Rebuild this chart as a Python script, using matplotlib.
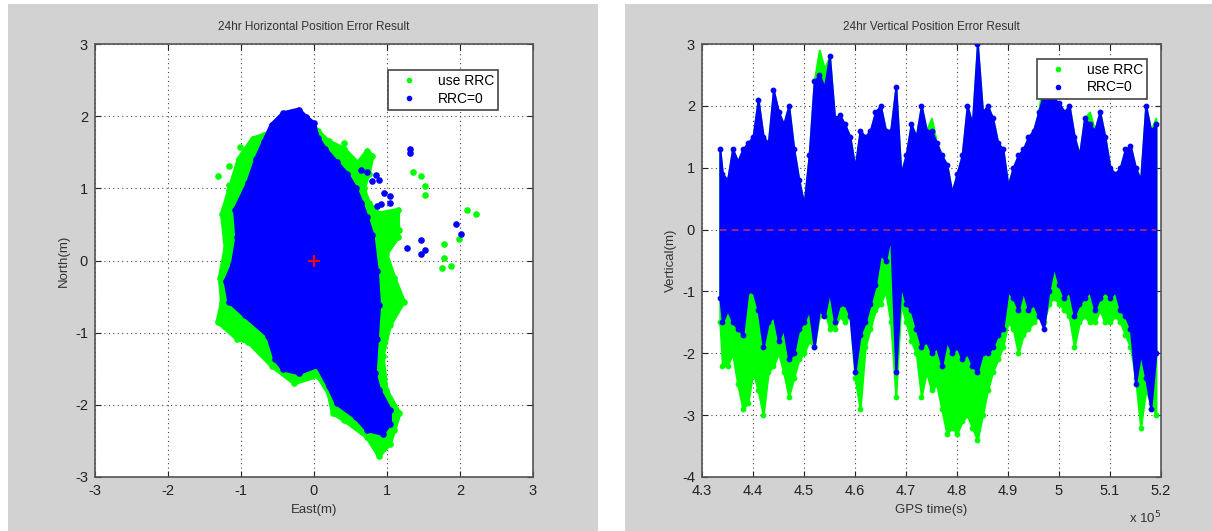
import matplotlib
matplotlib.use('Agg')  # no display

import matplotlib.pyplot as plt
from matplotlib.patches import Rectangle

plt.rcParams['font.family'] = ['Liberation Sans', 'DejaVu Sans']
plt.rcParams['axes.unicode_minus'] = False  # matlab-style hyphen minus

# ---- horizontal error cloud (East, North in m) ----
# outline of the "use RRC" cloud
green_east = [-0.84, -0.69, -0.11, 0.05, 0.20, 0.41, 0.60, 0.73, 0.80, 0.75, 0.68, 0.75,
              0.89, 1.15, 1.15, 0.99, 1.10, 1.23, 1.04, 0.94, 0.99, 1.17, 1.10, 1.04,
              0.89, 0.73, 0.41, 0.26, 0.20, 0.05, -0.27, -0.58, -0.90, -1.05, -1.32,
              -1.26, -1.29, -1.21, -1.26, -1.16, -1.03]
green_north = [1.69, 1.74, 1.97, 1.80, 1.65, 1.55, 1.35, 1.52, 1.45, 1.20, 1.00, 0.80,
               0.65, 0.70, 0.32, 0.09, -0.24, -0.57, -0.90, -1.32, -1.79, -2.12, -2.35, -2.54,
               -2.71, -2.45, -2.21, -2.12, -1.84, -1.60, -1.70, -1.46, -1.13, -1.09, -0.85,
               -0.57, -0.24, 0.18, 0.65, 0.98, 1.41]
# outline of the "RRC=0" cloud
blue_east = [-0.42, -0.21, -0.11, 0.00, 0.05, 0.15, 0.31, 0.45, 0.57, 0.65, 0.72,
             0.80, 0.86, 0.89, 0.86, 0.83, 0.89, 1.04, 1.04, 0.94, 0.73, 0.57,
             0.31, 0.20, 0.05, -0.21, -0.42, -0.53, -0.63, -0.95, -1.16, -1.21, -1.11,
             -1.05, -1.08, -0.90, -0.79, -0.69, -0.58]
blue_north = [2.04, 2.09, 1.99, 1.90, 1.70, 1.55, 1.36, 1.20, 1.00, 0.80, 0.60,
              0.35, -0.15, -0.62, -1.09, -1.56, -1.79, -2.07, -2.26, -2.40, -2.35, -2.17,
              -1.98, -1.74, -1.46, -1.56, -1.51, -1.37, -1.04, -0.76, -0.57, -0.29, -0.05,
              0.32, 0.70, 1.08, 1.41, 1.64, 1.88]
# scattered points away from the clouds
green_out_east = [-1.32, -1.16, -1.17, -1.01, 0.41, 1.36, 1.46, 1.52, 1.52, 2.09, 2.22,
                  1.99, 1.78, 1.78, 1.75, 1.88, 1.10, 1.17]
green_out_north = [1.17, 1.31, 1.05, 1.57, 1.63, 1.22, 1.17, 1.03, 0.91, 0.70, 0.65,
                   0.30, 0.23, 0.04, -0.10, -0.08, 0.61, 0.42]
blue_out_east = [1.31, 1.31, 1.94, 2.01, 1.46, 1.52, 1.28, 1.46, 1.04, 0.96, 1.04,
                 0.65, 0.73, 0.85, 0.89, 0.80, 0.86, 0.92]
blue_out_north = [1.55, 1.49, 0.51, 0.37, 0.28, 0.14, 0.18, 0.09, 0.89, 0.94, 0.79,
                  1.25, 1.22, 1.18, 1.12, 1.10, 0.75, 0.78]

# ---- vertical error envelopes vs GPS time (x 10^5 s) ----
gps_time = [4.335, 4.34, 4.35, 4.36, 4.37, 4.38, 4.39,
            4.40, 4.41, 4.42, 4.43, 4.44, 4.45, 4.46, 4.47, 4.48, 4.49,
            4.50, 4.51, 4.52, 4.53, 4.54, 4.55, 4.56, 4.57, 4.58, 4.59,
            4.60, 4.61, 4.62, 4.63, 4.64, 4.65, 4.66, 4.67, 4.68, 4.69,
            4.70, 4.71, 4.72, 4.73, 4.74, 4.75, 4.76, 4.77, 4.78, 4.79,
            4.80, 4.81, 4.82, 4.83, 4.84, 4.85, 4.86, 4.87, 4.88, 4.89,
            4.90, 4.91, 4.92, 4.93, 4.94, 4.95, 4.96, 4.97, 4.98, 4.99,
            5.00, 5.01, 5.02, 5.03, 5.04, 5.05, 5.06, 5.07, 5.08, 5.09,
            5.10, 5.11, 5.12, 5.13, 5.14, 5.15, 5.16, 5.17, 5.18, 5.19]
blue_top = [1.3, 0.9, 0.8, 1.3, 1.1, 1.3, 1.4,
            1.5, 2.1, 1.5, 1.4, 2.25, 1.9, 1.7, 2.0, 1.3, 0.8,
            0.4, 1.2, 2.4, 2.5, 2.3, 2.8, 1.8, 1.85, 1.7, 1.5,
            1.0, 1.6, 1.5, 1.6, 1.9, 2.0, 1.6, 1.6, 2.3, 0.9,
            1.2, 1.7, 1.5, 2.0, 1.6, 1.6, 1.4, 1.2, 1.05, 0.6,
            0.9, 1.2, 2.0, 1.7, 3.0, 1.9, 2.0, 1.8, 1.4, 1.3,
            0.7, 1.0, 1.2, 1.3, 1.5, 1.6, 1.9, 2.2, 2.2, 2.1,
            2.05, 1.9, 2.0, 1.5, 1.2, 1.8, 1.7, 1.6, 1.9, 1.5,
            1.0, 0.9, 1.0, 1.3, 1.35, 1.0, 0.8, 2.0, 1.6, 1.7]
green_top = [1.3, 0.9, 0.8, 1.3, 1.1, 1.3, 1.4,
             1.5, 2.1, 1.5, 1.4, 2.25, 1.9, 1.7, 2.0, 1.3, 0.8,
             0.4, 1.2, 2.4, 2.9, 2.6, 2.8, 1.8, 1.85, 1.7, 1.5,
             1.0, 1.6, 1.5, 1.6, 1.9, 2.0, 1.6, 1.6, 2.3, 0.9,
             1.2, 1.7, 1.5, 2.0, 1.6, 1.8, 1.4, 1.2, 1.05, 0.6,
             0.9, 1.2, 2.0, 1.7, 3.0, 1.9, 2.0, 1.8, 1.4, 1.3,
             0.7, 1.0, 1.2, 1.3, 1.5, 1.6, 1.9, 2.5, 2.3, 2.1,
             2.05, 1.9, 2.0, 1.5, 1.2, 1.8, 1.9, 1.6, 1.9, 1.5,
             1.0, 0.9, 1.0, 1.3, 1.35, 1.0, 0.8, 2.0, 1.6, 1.8]
blue_bottom = [-1.1, -1.5, -1.3, -1.5, -1.6, -1.7, -1.0,
               -1.0, -1.3, -1.9, -1.5, -1.4, -1.8, -1.6, -2.1, -2.0, -1.6,
               -1.5, -1.3, -1.9, -1.3, -1.4, -1.0, -1.5, -1.2, -1.2, -1.4,
               -2.3, -1.7, -1.5, -1.2, -0.9, -0.4, -0.5, -0.1, -2.3, -0.9,
               -1.2, -1.3, -1.6, -1.9, -1.8, -2.0, -1.9, -2.2, -1.8, -2.0,
               -1.9, -2.1, -2.0, -2.2, -2.3, -2.0, -2.0, -1.9, -1.7, -1.6,
               -1.0, -1.1, -1.3, -1.0, -1.3, -1.2, -1.4, -1.6, -1.0, -0.6,
               -0.9, -1.1, -1.0, -1.4, -1.2, -1.1, -1.0, -1.3, -1.1, -1.0,
               -1.1, -1.0, -1.3, -1.4, -1.6, -2.5, -2.0, -2.4, -2.9, -2.0]
green_bottom = [-1.5, -2.2, -2.2, -2.0, -2.5, -2.9, -2.8,
                -2.3, -2.6, -3.0, -2.3, -2.2, -2.0, -2.3, -2.7, -2.4, -2.1,
                -2.0, -1.8, -1.9, -1.4, -1.3, -1.6, -1.6, -1.4, -1.5, -1.4,
                -2.4, -2.9, -1.9, -1.6, -1.3, -1.2, -1.0, -1.5, -2.7, -1.2,
                -1.5, -1.8, -2.0, -2.7, -2.3, -2.6, -2.5, -2.9, -3.3, -3.2,
                -3.3, -3.1, -3.0, -3.2, -3.4, -3.0, -2.6, -2.3, -2.1, -1.9,
                -1.5, -1.6, -2.0, -1.7, -1.6, -1.5, -1.4, -1.5, -1.2, -1.1,
                -1.2, -1.3, -1.4, -1.9, -1.5, -1.4, -1.5, -1.5, -1.3, -1.5,
                -1.5, -1.4, -1.5, -1.7, -1.9, -2.4, -3.2, -2.6, -2.8, -3.0]

GREEN = '#00ff00'
BLUE = '#0000ff'
PANEL = '#d2d2d2'

W, H = 1212, 531
fig = plt.figure(figsize=(W / 100, H / 100), dpi=100, facecolor='white')
# grey matlab-style figure panels
fig.patches.append(Rectangle((8 / W, 0), 590 / W, 527 / H, transform=fig.transFigure,
                             facecolor=PANEL, edgecolor='none', zorder=-10))
fig.patches.append(Rectangle((625 / W, 0), 587 / W, 527 / H, transform=fig.transFigure,
                             facecolor=PANEL, edgecolor='none', zorder=-10))

ax1 = fig.add_axes([95 / W, 1 - 477 / H, 438 / W, 433 / H])
ax2 = fig.add_axes([702 / W, 1 - 477 / H, 459 / W, 433 / H])


def style_axes(ax):
    ax.set_facecolor('white')
    ax.grid(True, linestyle=(0, (1, 3)), color='#444444', linewidth=0.8)
    ax.set_axisbelow(True)
    ax.tick_params(direction='in', top=True, right=True, length=4, width=0.8,
                   labelsize=10.5, pad=5, colors='#222222')
    for s in ax.spines.values():
        s.set_color('#555555')
        s.set_linewidth(1.2)


# ---- left: horizontal ----
ax1.fill(green_east, green_north, color=GREEN, lw=3, zorder=2)
ax1.scatter(green_east, green_north, s=14, color=GREEN, zorder=2)
ax1.scatter(green_out_east, green_out_north, s=14, color=GREEN, zorder=2)
ax1.fill(blue_east, blue_north, color=BLUE, lw=3, zorder=3)
ax1.scatter(blue_east, blue_north, s=14, color=BLUE, zorder=3)
ax1.scatter(blue_out_east, blue_out_north, s=14, color=BLUE, zorder=3)
ax1.plot([0], [0], '+', color='red', ms=8, mew=1.5, zorder=4)
h1, = ax1.plot([], [], '.', color=GREEN, ms=6, label='use RRC')
h2, = ax1.plot([], [], '.', color=BLUE, ms=6, label='RRC=0')
ax1.set_xlim(-3, 3)
ax1.set_ylim(-3, 3)
ax1.set_xticks(range(-3, 4))
ax1.set_yticks(range(-3, 4))
style_axes(ax1)
ax1.set_title('24hr Horizontal Position Error Result', fontsize=8.5, pad=10, color='#333333')
ax1.set_xlabel('East(m)', fontsize=9.5, labelpad=4, color='#333333')
ax1.set_ylabel('North(m)', fontsize=9.5, labelpad=4, color='#333333')
leg1 = ax1.legend(handles=[h1, h2], loc='upper right', bbox_to_anchor=(0.936, 0.956),
                  fontsize=10, fancybox=False, framealpha=1, edgecolor='#444444',
                  handlelength=2.5, borderpad=0.3, labelspacing=0.25)
leg1.get_frame().set_linewidth(1.2)

# ---- right: vertical ----
ax2.fill_between(gps_time, green_bottom, green_top, color=GREEN, lw=1.5, edgecolor=GREEN, zorder=2)
ax2.fill_between(gps_time, blue_bottom, blue_top, color=BLUE, lw=1.5, edgecolor=BLUE, zorder=3)
ax2.scatter(gps_time, green_bottom, s=10, color=GREEN, zorder=2)
ax2.scatter(gps_time, blue_top, s=10, color=BLUE, zorder=3)
ax2.scatter(gps_time, blue_bottom, s=10, color=BLUE, zorder=3)
ax2.plot([gps_time[0], gps_time[-1]], [0, 0], '--', color='#b0306a', lw=1.2,
         dashes=(4, 3), zorder=4)
g1, = ax2.plot([], [], '.', color=GREEN, ms=6, label='use RRC')
g2, = ax2.plot([], [], '.', color=BLUE, ms=6, label='RRC=0')
ax2.set_xlim(4.3, 5.2)
ax2.set_ylim(-4, 3)
xt = [4.3, 4.4, 4.5, 4.6, 4.7, 4.8, 4.9, 5.0, 5.1, 5.2]
ax2.set_xticks(xt)
ax2.set_xticklabels(['%g' % v for v in xt])
ax2.set_yticks(range(-4, 4))
style_axes(ax2)
ax2.set_title('24hr Vertical Position Error Result', fontsize=8.5, pad=10, color='#333333')
ax2.set_xlabel('GPS time(s)', fontsize=9.5, labelpad=4, color='#333333')
ax2.set_ylabel('Vertical(m)', fontsize=9.5, labelpad=4, color='#333333')
ax2.text(1.0, -0.075, r'x 10$^5$', transform=ax2.transAxes, ha='right', va='top',
         fontsize=9.5, color='#333333')
leg2 = ax2.legend(handles=[g1, g2], loc='upper right', bbox_to_anchor=(0.985, 0.982),
                  fontsize=10, fancybox=False, framealpha=1, edgecolor='#444444',
                  handlelength=2.5, borderpad=0.3, labelspacing=0.25)
leg2.get_frame().set_linewidth(1.2)

fig.savefig('out.png', dpi=100)
